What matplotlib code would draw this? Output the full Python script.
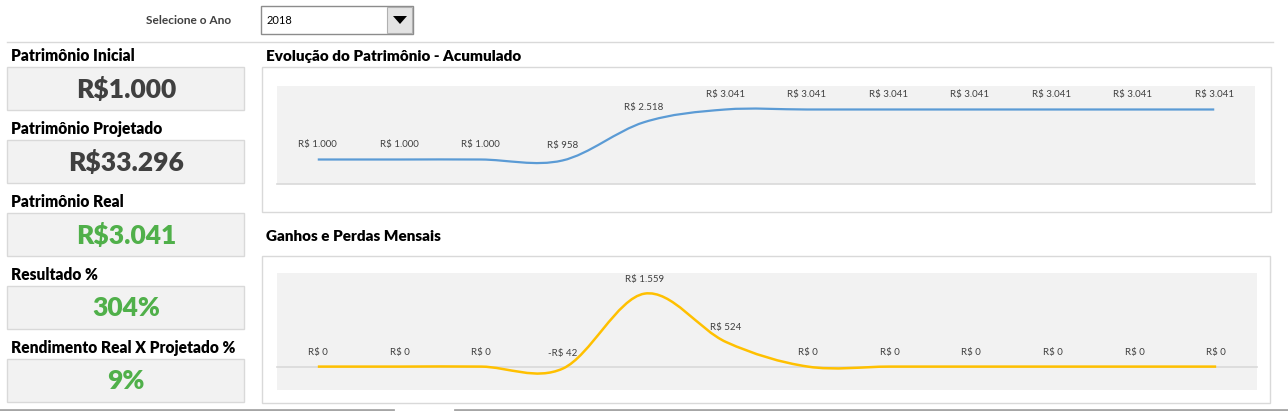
import numpy as np
import matplotlib
matplotlib.use("Agg")
import matplotlib.pyplot as plt
from matplotlib.path import Path
from matplotlib.patches import PathPatch, Rectangle, Polygon
from matplotlib.lines import Line2D

plt.rcParams['font.family'] = ['Lato', 'DejaVu Sans']

# data
meses = list(range(12))
patrimonio_acumulado = [1000, 1000, 1000, 958, 2518, 3041, 3041, 3041, 3041, 3041, 3041, 3041]
ganhos_perdas = [0, 0, 0, -42, 1559, 524, 0, 0, 0, 0, 0, 0]

ano = "2018"
kpi_titulos = ["Patrimônio Inicial", "Patrimônio Projetado", "Patrimônio Real",
               "Resultado %", "Rendimento Real X Projetado %"]
kpi_valores = ["R$1.000", "R$33.296", "R$3.041", "304%", "9%"]
kpi_cores = ["#404040", "#404040", "#50b04a", "#50b04a", "#50b04a"]

W, H = 1288, 411
GRID = "#d9d9d9"
TXT = "#404040"


def fx(x):
    return x / W


def fy(y):
    return 1 - y / H


def box(fig, x0, y0, x1, y1, face, edge, lw=1.0):
    fig.patches.append(Rectangle((fx(x0), fy(y1)), fx(x1) - fx(x0), fy(y0) - fy(y1),
                                 transform=fig.transFigure, facecolor=face,
                                 edgecolor=edge, linewidth=lw, zorder=0))


def brl(v):
    s = f"{abs(v):,}".replace(",", ".")
    return ("-R$ " if v < 0 else "R$ ") + s


def smooth_path(xs, ys):
    # excel-like smoothed line (catmull-rom bezier)
    pts = np.column_stack([xs, ys]).astype(float)
    n = len(pts)
    verts = [pts[0]]
    codes = [Path.MOVETO]
    for i in range(n - 1):
        p0 = pts[max(i - 1, 0)]
        p1 = pts[i]
        p2 = pts[i + 1]
        p3 = pts[min(i + 2, n - 1)]
        verts += [p1 + (p2 - p0) / 6, p2 - (p3 - p1) / 6, p2]
        codes += [Path.CURVE4] * 3
    return Path(verts, codes)


fig = plt.figure(figsize=(W / 100, H / 100), dpi=100)
fig.patch.set_facecolor("white")

# header: year selector
fig.text(fx(231), fy(20), "Selecione o Ano", ha="right", va="center",
         fontsize=8.6, fontweight="bold", color=TXT)
box(fig, 261, 6, 413, 34, "white", "#8c8c8c")
box(fig, 387, 7, 412, 33, "#e3e3e3", "#b0b0b0", lw=0.8)
fig.patches.append(Polygon([[fx(393), fy(16)], [fx(407), fy(16)], [fx(400), fy(24)]],
                           closed=True, transform=fig.transFigure, facecolor="black",
                           edgecolor="none"))
fig.text(fx(267), fy(20), ano, ha="left", va="center", fontsize=8, color="black")
fig.lines.append(Line2D([fx(7), fx(1273)], [fy(42), fy(42)], transform=fig.transFigure,
                        color=GRID, linewidth=1))

# left KPI panel
for k, (t, v, c) in enumerate(zip(kpi_titulos, kpi_valores, kpi_cores)):
    top = 67 + k * 73
    fig.text(fx(11), fy(top - 11), t, ha="left", va="center", fontsize=11.2,
             fontweight="heavy", color="black")
    box(fig, 7, top, 244, top + 43, "#f2f2f2", GRID)
    fig.text(fx(126), fy(top + 22), v, ha="center", va="center", fontsize=19,
             fontweight="heavy", color=c)

# chart titles and frames
fig.text(fx(266), fy(56), "Evolução do Patrimônio - Acumulado", ha="left", va="center",
         fontsize=11, fontweight="heavy", color="black")
box(fig, 262, 67, 1271, 212, "white", GRID)
fig.text(fx(266), fy(236), "Ganhos e Perdas Mensais", ha="left", va="center",
         fontsize=11, fontweight="heavy", color="black")
box(fig, 262, 256, 1270, 403, "white", GRID)

# bottom strip
for a, b in [(0, 393), (455, 1288)]:
    fig.lines.append(Line2D([fx(a), fx(b)], [fy(410), fy(410)], transform=fig.transFigure,
                            color="#a6a6a6", linewidth=2))


def chart(rect, values, color, ylim, lw):
    x0, y0, x1, y1 = rect
    ax = fig.add_axes([fx(x0), fy(y1), fx(x1) - fx(x0), fy(y0) - fy(y1)])
    ax.set_zorder(5)
    ax.set_facecolor("#f2f2f2")
    ax.set_xlim(-0.5, 11.5)
    ax.set_ylim(*ylim)
    for s in ax.spines.values():
        s.set_visible(False)
    ax.set_xticks([])
    ax.set_yticks([])
    ax.axhline(0, color=GRID, linewidth=1.2, zorder=1, clip_on=False)
    ax.add_patch(PathPatch(smooth_path(meses, values), facecolor="none",
                           edgecolor=color, linewidth=lw, capstyle="butt", zorder=3))
    for i, v in zip(meses, values):
        ax.annotate(brl(v), (i, v), xytext=(0, 10.5), textcoords="offset points",
                    ha="center", va="center", fontsize=7, color=TXT)
    return ax


chart((277, 86, 1255, 184), patrimonio_acumulado, "#5b9bd5", (0, 4000), 1.6)
chart((277, 273, 1257, 390), ganhos_perdas, "#ffc000", (-500, 2000), 1.8)

fig.savefig("out.png", dpi=100, facecolor="white")
